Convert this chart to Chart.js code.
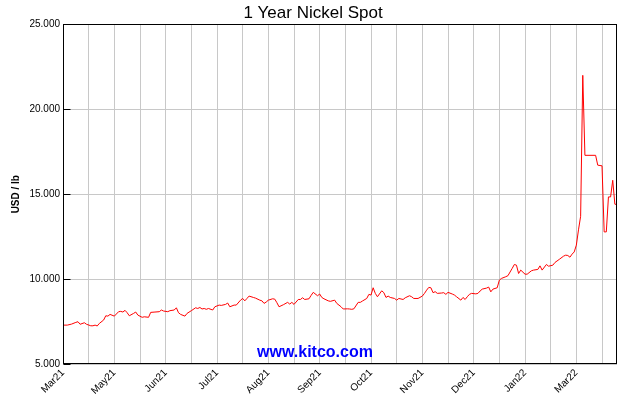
<!DOCTYPE html>
<html lang="en">

<head>
  <meta charset="UTF-8" />
  <script src="https://cdn.jsdelivr.net/npm/chart.js"></script>
  <title>1 Year Nickel Spot</title>
  <style>
    * {
      padding: 0;
      margin: 0;
    }

    html, body {
      background-color: #ffffff;
      width: 630px;
      height: 400px;
      overflow: hidden;
    }
  </style>
</head>

<body>
  <canvas id="nickelChart" width="630" height="400" aria-label="1 Year Nickel Spot" role="img"></canvas>
</body>

<script>
  // Trading day offsets from the start of the year window
  const tradingDays = [
    0, 2, 4, 6, 7, 8, 10, 11, 13, 14, 15, 16, 17, 19, 20, 21, 22, 24, 26, 27,
    28, 29, 30, 31, 33, 34, 35, 37, 38, 40, 41, 43, 45, 46, 47, 49, 50, 52, 53, 54,
    55, 57, 58, 60, 62, 63, 64, 65, 66, 67, 68, 70, 71, 73, 74, 76, 77, 78, 80, 81,
    83, 84, 85, 86, 87, 89, 90, 92, 93, 94, 95, 96, 98, 99, 100, 101, 103, 105, 106, 107,
    108, 110, 111, 112, 113, 115, 116, 117, 119, 120, 121, 122, 124, 125, 127, 128, 130, 131, 133, 134,
    135, 136, 138, 139, 140, 142, 143, 144, 145, 146, 147, 149, 150, 151, 152, 153, 155, 156, 157, 159,
    160, 162, 163, 164, 166, 168, 169, 170, 171, 172, 173, 174, 175, 177, 178, 179, 180, 182, 183, 184,
    186, 187, 188, 189, 190, 191, 193, 194, 195, 196, 198, 199, 200, 201, 203, 204, 205, 207, 208, 210,
    211, 212, 213, 214, 216, 217, 219, 220, 222, 223, 224, 226, 227, 229, 230, 232, 234, 235, 236, 237,
    238, 239, 240, 241, 242, 243, 244, 249, 250, 252, 253, 254, 255, 256, 257, 258, 259
  ];

  // Nickel spot, USD / lb
  const nickelPrices = [
    7.29, 7.29, 7.35, 7.45, 7.49, 7.34, 7.43, 7.34, 7.25, 7.25, 7.29, 7.24, 7.39, 7.59, 7.84, 7.82, 7.92, 7.82, 8.08, 8.10,
    8.06, 8.16, 8.02, 7.84, 7.98, 8.06, 7.88, 7.75, 7.78, 7.75, 8.04, 8.06, 8.08, 8.18, 8.12, 8.08, 8.14, 8.18, 8.31, 8.02,
    7.92, 7.82, 7.98, 8.14, 8.31, 8.27, 8.33, 8.24, 8.27, 8.22, 8.27, 8.18, 8.37, 8.47, 8.45, 8.51, 8.59, 8.37, 8.47, 8.47,
    8.76, 8.86, 8.72, 8.86, 9.00, 8.92, 8.88, 8.76, 8.72, 8.57, 8.65, 8.76, 8.84, 8.82, 8.61, 8.37, 8.49, 8.63, 8.53, 8.63,
    8.51, 8.80, 8.80, 8.90, 8.80, 8.84, 9.04, 9.22, 9.02, 9.12, 8.92, 8.84, 8.72, 8.69, 8.76, 8.57, 8.37, 8.24, 8.25, 8.24,
    8.22, 8.25, 8.63, 8.63, 8.71, 8.86, 9.10, 9.06, 9.49, 9.16, 8.96, 9.31, 9.20, 8.92, 9.00, 8.92, 8.86, 8.76, 8.86, 8.80,
    8.90, 9.02, 8.96, 8.86, 8.86, 9.00, 9.16, 9.35, 9.51, 9.49, 9.20, 9.26, 9.16, 9.18, 9.20, 9.10, 9.22, 9.12, 9.06, 8.96,
    8.76, 8.92, 8.80, 8.96, 9.10, 9.16, 9.13, 9.16, 9.30, 9.41, 9.47, 9.53, 9.25, 9.41, 9.49, 9.94, 10.04, 10.14, 10.20, 10.63,
    10.86, 10.82, 10.33, 10.53, 10.29, 10.29, 10.49, 10.53, 10.57, 10.78, 10.53, 10.86, 10.76, 10.82, 10.98, 11.16, 11.35, 11.41, 11.39, 11.29,
    11.47, 11.60, 12.00, 12.90, 13.70, 22.00, 17.29, 17.29, 16.71, 16.67, 12.78, 12.78, 14.84, 14.84, 15.82, 14.41, 14.39
  ];

  // One label every 24 trading days, a grid line every 12
  const monthLabels = ['Mar21', 'May21', 'Jun21', 'Jul21', 'Aug21', 'Sep21', 'Oct21', 'Nov21', 'Dec21', 'Jan22', 'Mar22'];
  const yTicks = [5, 10, 15, 20, 25];

  const points = tradingDays.map((d, i) => ({ x: d, y: nickelPrices[i] }));

  // Black frame, inner y ticks and the watermark
  const framePlugin = {
    id: 'frame',
    afterDraw(chart) {
      const ctx = chart.ctx;
      const a = chart.chartArea;
      const yScale = chart.scales.y;
      ctx.save();
      ctx.strokeStyle = '#000000';
      ctx.lineWidth = 1;
      const l = Math.round(a.left) + 0.5;
      const t = Math.round(a.top) + 0.5;
      const r = Math.round(a.right) - 0.5;
      const b = Math.round(a.bottom) - 0.5;
      ctx.strokeRect(l, t, r - l, b - t);
      ctx.beginPath();
      yTicks.forEach(v => {
        const py = Math.round(yScale.getPixelForValue(v)) + 0.5;
        ctx.moveTo(l, py);
        ctx.lineTo(l + 7, py);
      });
      ctx.stroke();

      ctx.fillStyle = '#0000ff';
      ctx.font = 'bold 16px "Liberation Sans", Arial, sans-serif';
      ctx.textAlign = 'center';
      ctx.textBaseline = 'alphabetic';
      ctx.fillText('www.kitco.com', chart.width / 2, 357);
      ctx.restore();
    }
  };

  const nickelChart = new Chart(document.getElementById('nickelChart'), {
    type: 'line',
    data: {
      datasets: [
        {
          label: 'Nickel',
          data: points,
          borderColor: '#ff0000',
          borderWidth: 1,
          pointRadius: 0,
          tension: 0,
          fill: false
        }
      ]
    },
    options: {
      responsive: false,
      animation: false,
      devicePixelRatio: 1,
      layout: {
        padding: { left: 9, right: 13, top: 0, bottom: 0 }
      },
      scales: {
        x: {
          type: 'linear',
          min: 0,
          max: 259,
          afterFit: scale => { scale.height = 36; },
          grid: {
            color: '#c8c8c8',
            drawTicks: false
          },
          border: { display: false },
          ticks: {
            stepSize: 12,
            includeBounds: false,
            autoSkip: false,
            minRotation: 45,
            maxRotation: 45,
            padding: 3,
            color: '#000000',
            font: { family: '"Liberation Sans", Arial, sans-serif', size: 10 },
            callback: function (value) {
              return value % 24 === 0 ? monthLabels[value / 24] : '';
            }
          }
        },
        y: {
          min: 5,
          max: 25,
          afterFit: scale => { scale.width = 54; },
          grid: {
            color: '#c8c8c8',
            drawTicks: false
          },
          border: { display: false },
          title: {
            display: true,
            text: 'USD / lb',
            color: '#000000',
            padding: { top: 1, bottom: 0 },
            font: { family: '"Liberation Sans", Arial, sans-serif', size: 10, weight: 'bold' }
          },
          ticks: {
            stepSize: 5,
            padding: 3,
            color: '#000000',
            font: { family: '"Liberation Sans", Arial, sans-serif', size: 10 },
            callback: function (value) {
              return value.toFixed(3);
            }
          }
        }
      },
      plugins: {
        legend: { display: false },
        tooltip: { enabled: false },
        title: {
          display: true,
          text: '1 Year Nickel Spot',
          color: '#000000',
          padding: { top: 3, bottom: 1 },
          font: { family: '"Liberation Sans", Arial, sans-serif', size: 17, weight: 'normal' }
        }
      }
    },
    plugins: [framePlugin]
  });
</script>

</html>
